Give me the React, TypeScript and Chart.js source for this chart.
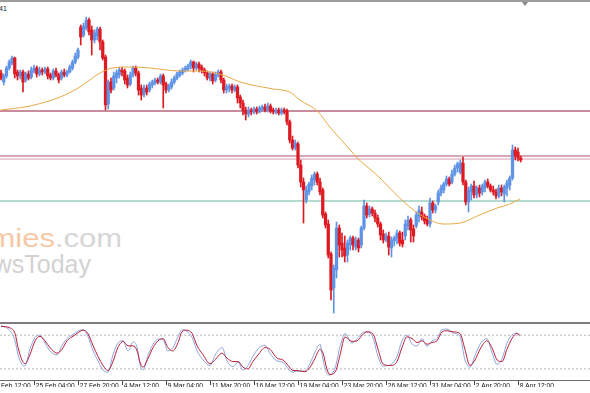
import React, { useEffect, useRef } from 'react';
import { Chart, registerables } from 'chart.js';

Chart.register(...registerables);

// ---------- price data (H4 candles) ----------
const opens = [
  1627, 1618, 1624, 1632, 1637, 1642, 1628, 1624, 1628, 1620,
  1626, 1623, 1629, 1632, 1626, 1630, 1628, 1631, 1625, 1622,
  1629, 1625, 1622, 1628, 1625, 1628, 1632, 1638, 1643, 1673,
  1665, 1672, 1680, 1670, 1660, 1664, 1671, 1658, 1643, 1596,
  1618, 1612, 1622, 1625, 1630, 1629, 1622, 1616, 1625, 1632,
  1627, 1612, 1606, 1612, 1610, 1615, 1617, 1620, 1618, 1624,
  1616, 1610, 1613, 1618, 1622, 1625, 1627, 1630, 1631, 1634,
  1638, 1632, 1636, 1633, 1630, 1627, 1622, 1626, 1620, 1625,
  1628, 1620, 1610, 1612, 1614, 1610, 1613, 1603, 1597, 1590,
  1586, 1590, 1588, 1591, 1588, 1591, 1593, 1590, 1594, 1590,
  1588, 1590, 1587, 1590, 1589, 1578, 1560, 1552, 1556, 1535,
  1518, 1500, 1508, 1514, 1520, 1526, 1518, 1510, 1486, 1476,
  1446, 1412, 1430, 1472, 1457, 1452, 1445, 1455, 1462, 1453,
  1460, 1455, 1472, 1494, 1486, 1491, 1487, 1482, 1476, 1466,
  1460, 1464, 1452, 1459, 1462, 1467, 1460, 1464, 1474, 1480,
  1471, 1474, 1484, 1488, 1484, 1481, 1476, 1497, 1490, 1498,
  1507, 1510, 1516, 1521, 1518, 1526, 1532, 1528, 1537, 1518,
  1498, 1508, 1514, 1505, 1512, 1508, 1512, 1518, 1514, 1510,
  1508, 1504, 1512, 1506, 1512, 1515, 1522, 1550, 1548, 1542,
];
const highs = [
  1630, 1626, 1634, 1640, 1644, 1643, 1630, 1630, 1630, 1628,
  1629, 1633, 1635, 1634, 1633, 1632, 1633, 1633, 1627, 1631,
  1632, 1627, 1630, 1631, 1630, 1635, 1640, 1647, 1652, 1675,
  1677, 1683, 1682, 1674, 1670, 1673, 1673, 1660, 1645, 1620,
  1622, 1628, 1630, 1633, 1633, 1631, 1625, 1628, 1634, 1634,
  1629, 1615, 1615, 1615, 1618, 1620, 1622, 1622, 1626, 1626,
  1618, 1616, 1621, 1624, 1628, 1630, 1632, 1634, 1636, 1640,
  1639, 1638, 1638, 1635, 1632, 1629, 1628, 1628, 1628, 1630,
  1630, 1622, 1616, 1616, 1616, 1615, 1615, 1605, 1600, 1593,
  1593, 1592, 1593, 1593, 1594, 1595, 1596, 1597, 1596, 1592,
  1592, 1592, 1592, 1592, 1591, 1580, 1564, 1560, 1558, 1540,
  1522, 1514, 1518, 1525, 1528, 1528, 1522, 1512, 1488, 1480,
  1448, 1435, 1478, 1475, 1467, 1464, 1460, 1464, 1464, 1463,
  1462, 1474, 1500, 1497, 1494, 1493, 1490, 1485, 1478, 1470,
  1467, 1468, 1463, 1464, 1470, 1469, 1468, 1480, 1484, 1482,
  1475, 1488, 1494, 1493, 1486, 1484, 1502, 1499, 1496, 1510,
  1515, 1518, 1524, 1523, 1530, 1535, 1538, 1540, 1543, 1520,
  1513, 1516, 1519, 1514, 1515, 1516, 1520, 1521, 1516, 1514,
  1511, 1515, 1515, 1515, 1520, 1524, 1555, 1553, 1552, 1544,
];
const lows = [
  1620, 1615, 1622, 1630, 1635, 1622, 1620, 1621, 1608, 1618,
  1620, 1621, 1627, 1623, 1624, 1625, 1626, 1621, 1620, 1620,
  1623, 1617, 1620, 1623, 1623, 1627, 1630, 1636, 1641, 1655,
  1663, 1670, 1665, 1645, 1657, 1660, 1650, 1640, 1590, 1591,
  1607, 1610, 1617, 1622, 1624, 1616, 1612, 1614, 1623, 1624,
  1605, 1600, 1603, 1605, 1608, 1612, 1615, 1616, 1616, 1592,
  1607, 1608, 1611, 1616, 1620, 1623, 1625, 1628, 1629, 1631,
  1628, 1630, 1628, 1627, 1624, 1620, 1619, 1616, 1618, 1623,
  1617, 1607, 1607, 1608, 1607, 1608, 1597, 1592, 1585, 1580,
  1583, 1585, 1586, 1586, 1587, 1589, 1588, 1588, 1587, 1586,
  1586, 1585, 1585, 1586, 1575, 1557, 1550, 1550, 1532, 1513,
  1477, 1497, 1505, 1510, 1515, 1515, 1505, 1482, 1472, 1442,
  1400, 1387, 1422, 1443, 1443, 1438, 1438, 1450, 1450, 1450,
  1448, 1452, 1470, 1482, 1483, 1484, 1478, 1473, 1460, 1457,
  1458, 1445, 1443, 1454, 1456, 1454, 1453, 1460, 1470, 1458,
  1458, 1472, 1478, 1480, 1476, 1474, 1473, 1487, 1487, 1495,
  1504, 1507, 1514, 1514, 1516, 1524, 1528, 1526, 1515, 1495,
  1488, 1500, 1502, 1502, 1503, 1505, 1508, 1512, 1508, 1505,
  1501, 1502, 1504, 1498, 1504, 1510, 1520, 1540, 1539, 1538,
];
const closes = [
  1622, 1624, 1632, 1638, 1642, 1626, 1624, 1628, 1618, 1626,
  1622, 1630, 1632, 1626, 1630, 1628, 1631, 1624, 1622, 1629,
  1625, 1620, 1628, 1625, 1628, 1633, 1638, 1644, 1650, 1663,
  1674, 1680, 1668, 1660, 1667, 1671, 1658, 1642, 1595, 1618,
  1610, 1624, 1627, 1630, 1628, 1620, 1615, 1625, 1632, 1627,
  1610, 1605, 1612, 1608, 1616, 1618, 1620, 1618, 1624, 1615,
  1610, 1614, 1618, 1622, 1626, 1628, 1630, 1632, 1634, 1638,
  1632, 1636, 1632, 1630, 1627, 1622, 1626, 1619, 1625, 1628,
  1620, 1610, 1613, 1614, 1610, 1613, 1602, 1597, 1590, 1586,
  1590, 1588, 1591, 1588, 1592, 1593, 1590, 1594, 1589, 1588,
  1590, 1587, 1590, 1588, 1578, 1560, 1552, 1557, 1535, 1518,
  1510, 1510, 1516, 1522, 1526, 1518, 1508, 1485, 1475, 1445,
  1410, 1432, 1472, 1455, 1450, 1444, 1457, 1462, 1455, 1460,
  1452, 1472, 1494, 1485, 1491, 1487, 1482, 1476, 1465, 1460,
  1464, 1453, 1460, 1462, 1467, 1457, 1456, 1476, 1480, 1470,
  1464, 1485, 1490, 1483, 1479, 1476, 1497, 1490, 1494, 1507,
  1512, 1516, 1521, 1516, 1526, 1532, 1536, 1537, 1518, 1498,
  1510, 1514, 1505, 1512, 1507, 1514, 1518, 1514, 1510, 1508,
  1504, 1512, 1508, 1513, 1517, 1522, 1550, 1544, 1542, 1540,
];

// ---------- moving average (sampled by bar index) ----------
const maBars = [0, 10.5, 21.5, 28.7, 36, 40.7, 48, 54.2, 65, 72.4, 80.7, 87, 99, 105, 108.7, 115, 119.6, 127, 129.5, 136.7, 145, 151, 156, 160.7, 167, 174, 180.4, 185, 188.7];
const maValues = [1590, 1594, 1603, 1613, 1627, 1632, 1633, 1632, 1629, 1629, 1625, 1618, 1611, 1608, 1600, 1589, 1573, 1550, 1542, 1525, 1502, 1488, 1480, 1476, 1477, 1485, 1492, 1496, 1501];

// ---------- horizontal levels ----------
const levelValues = [1589, 1544, 1541, 1499];
const levelColors = ['#c98c9c', '#c98a9b', '#e6bcc8', '#9dcfbf'];
const levelWidths = [1.8, 1.5, 1.3, 1.6];

// ---------- stochastic oscillator ----------
const stochBars = [
  0, 3.3, 5.1, 6.2, 7.6, 8.7, 10.5, 12.4, 14.2, 16,
  17.8, 20.4, 22.2, 24, 25.8, 27.6, 29.8, 31.6, 33.5, 35.3,
  37.1, 38.9, 40.7, 42.5, 44.4, 46.2, 48, 49.5, 50.5, 51.6,
  53.5, 55.3, 57.1, 58.9, 60.7, 62.5, 64.4, 65.8, 67.6, 69.5,
  71.3, 73.5, 76, 77.8, 80.4, 82.2, 84.4, 86.2, 88, 89.8,
  91.6, 93.5, 96, 97.8, 100.4, 102.5, 104.4, 106.2, 107.6, 110.5,
  112.4, 114.2, 116, 117.1, 118.5, 119.6, 121.5, 123.3, 125.1, 127.6,
  129.5, 131.3, 133.1, 135.3, 137.1, 138.9, 141.5, 144, 145.8, 147.6,
  149.5, 151.3, 153.1, 154.9, 156.7, 158.5, 160.4, 162.2, 164.4, 166.9,
  168.7, 170.5, 172.4, 174.2, 176.7, 178.5, 180.4, 182.2, 184, 185.8,
  187.6, 188.7,
];
const stochSignal = [
  96, 93, 83, 58, 36, 29, 45, 70, 78, 70,
  58, 48, 55, 70, 77, 83, 89, 83, 61, 42,
  26, 17, 33, 58, 69, 61, 61, 52, 33, 23,
  39, 58, 70, 74, 58, 52, 67, 86, 89, 83,
  61, 45, 29, 36, 48, 39, 33, 33, 23, 20,
  33, 45, 58, 55, 39, 36, 26, 17, 17, 15,
  23, 39, 55, 48, 20, 10, 14, 45, 77, 69,
  70, 80, 86, 82, 55, 29, 26, 33, 58, 77,
  74, 67, 70, 64, 67, 70, 86, 88, 86, 83,
  55, 26, 36, 55, 70, 58, 36, 33, 55, 74,
  83, 80,
];
const stochMain = [
  97, 88, 70, 45, 28, 25, 55, 76, 80, 66,
  52, 45, 62, 74, 80, 86, 90, 78, 52, 34,
  18, 14, 45, 66, 70, 52, 68, 58, 28, 18,
  45, 64, 73, 72, 52, 58, 78, 90, 87, 76,
  52, 36, 26, 44, 58, 34, 24, 32, 18, 26,
  42, 56, 62, 48, 34, 32, 20, 14, 16, 16,
  30, 50, 64, 36, 12, 9, 22, 60, 83, 66,
  74, 84, 86, 75, 42, 25, 27, 42, 70, 80,
  64, 61, 74, 60, 70, 74, 90, 91, 84, 78,
  36, 23, 44, 64, 74, 50, 28, 38, 66, 80,
  84, 78,
];
const stochLevels = [80, 20];

// ---------- time axis ----------
const tickBars = [-4, 12, 28, 44, 60, 76, 92, 108, 124, 140, 156, 172, 188];
const tickLabels = [
  '21 Feb 12:00', '25 Feb 04:00', '27 Feb 20:00', '4 Mar 12:00', '9 Mar 04:00',
  '11 Mar 20:00', '16 Mar 12:00', '19 Mar 04:00', '23 Mar 20:00', '26 Mar 12:00',
  '31 Mar 04:00', '2 Apr 20:00', '8 Apr 12:00',
];

// ---------- layout / style constants ----------
const W = 590;
const BAR_PX = 2.75;
const FIRST_BAR_PX = 1;
const OSC_LEFT = -60;
const XMIN_MAIN = (0 - FIRST_BAR_PX) / BAR_PX;
const XMAX_MAIN = (W - FIRST_BAR_PX) / BAR_PX;
const XMIN_OSC = (OSC_LEFT - FIRST_BAR_PX) / BAR_PX;
const XMAX_OSC = XMAX_MAIN;
const PRICE_TOP = 1697;
const PRICE_BOTTOM = 1380;
const BULL = '#5f93e6';
const BEAR = '#dd1a22';
const MA_COLOR = '#e9a845';
const FONT = '"Liberation Sans", Arial, sans-serif';

export default function App() {
  const mainRef = useRef<HTMLCanvasElement>(null);
  const oscRef = useRef<HTMLCanvasElement>(null);

  useEffect(() => {
    document.body.style.margin = '0';
    const idx = opens.map((_, i) => i);
    const colors = idx.map((i) => (closes[i] >= opens[i] ? BULL : BEAR));

    const main = new Chart(mainRef.current as HTMLCanvasElement, {
      type: 'bar',
      data: {
        datasets: [
          ...levelValues.map((v, k) => ({
            type: 'line' as const,
            data: [{ x: XMIN_MAIN, y: v }, { x: XMAX_MAIN, y: v }],
            borderColor: levelColors[k],
            borderWidth: levelWidths[k],
            pointRadius: 0,
            order: 10,
          })),
          {
            type: 'bar' as const,
            data: idx.map((i) => ({ x: i, y: [lows[i], highs[i]] })),
            backgroundColor: colors,
            barThickness: 1,
            grouped: false,
            borderWidth: 0,
            order: 5,
          },
          {
            type: 'bar' as const,
            data: idx.map((i) => ({ x: i, y: [opens[i], closes[i]] })),
            backgroundColor: colors,
            barThickness: 2.6,
            grouped: false,
            borderWidth: 0,
            order: 4,
          },
          {
            type: 'line' as const,
            data: maBars.map((b, k) => ({ x: b, y: maValues[k] })),
            borderColor: MA_COLOR,
            borderWidth: 1,
            pointRadius: 0,
            cubicInterpolationMode: 'monotone',
            order: 1,
          },
        ],
      } as any,
      options: {
        animation: false,
        responsive: false,
        events: [],
        layout: { padding: 0 },
        plugins: { legend: { display: false }, tooltip: { enabled: false } },
        scales: {
          x: { type: 'linear', display: false, min: XMIN_MAIN, max: XMAX_MAIN, offset: false },
          y: { type: 'linear', display: false, min: PRICE_BOTTOM, max: PRICE_TOP },
        },
      } as any,
    });

    const osc = new Chart(oscRef.current as HTMLCanvasElement, {
      type: 'line',
      data: {
        datasets: [
          ...stochLevels.map((v) => ({
            data: [{ x: XMIN_OSC, y: v }, { x: XMAX_OSC, y: v }],
            borderColor: '#b9b9b9',
            borderWidth: 1,
            borderDash: [2, 2],
            pointRadius: 0,
            order: 10,
          })),
          {
            data: stochBars.map((b, k) => ({ x: b, y: stochMain[k] })),
            borderColor: '#8ea5dd',
            borderWidth: 1,
            pointRadius: 0,
            cubicInterpolationMode: 'monotone',
            order: 2,
          },
          {
            data: stochBars.map((b, k) => ({ x: b, y: stochSignal[k] })),
            borderColor: '#b81c35',
            borderWidth: 1,
            pointRadius: 0,
            cubicInterpolationMode: 'monotone',
            order: 1,
          },
        ],
      } as any,
      options: {
        animation: false,
        responsive: false,
        events: [],
        layout: { padding: { top: 3, bottom: 6, left: 0, right: 0 } },
        plugins: { legend: { display: false }, tooltip: { enabled: false } },
        scales: {
          x: {
            type: 'linear',
            min: XMIN_OSC,
            max: XMAX_OSC,
            offset: false,
            afterBuildTicks: (axis: any) => {
              axis.ticks = tickBars.map((value) => ({ value }));
            },
            ticks: {
              autoSkip: false,
              maxRotation: 0,
              minRotation: 0,
              align: 'start',
              padding: -3,
              color: '#111',
              font: { size: 6.6, family: FONT },
              callback: (_v: any, i: number) => ' ' + tickLabels[i],
            },
            grid: { display: true, drawOnChartArea: false, drawTicks: true, tickLength: 5, color: '#444', lineWidth: 1 },
            border: { display: true, color: '#6a6a6a', width: 1 },
          },
          y: { type: 'linear', display: false, min: 0, max: 100 },
        },
      } as any,
    });

    return () => {
      main.destroy();
      osc.destroy();
    };
  }, []);

  return (
    <div
      style={{
        position: 'fixed',
        left: 0,
        top: 0,
        width: W,
        height: 393,
        overflow: 'hidden',
        background: '#ffffff',
        fontFamily: FONT,
      }}
    >
      {/* watermark */}
      <div
        style={{
          position: 'absolute',
          right: W - 122,
          top: 226,
          fontSize: 25,
          lineHeight: '25px',
          whiteSpace: 'nowrap',
          fontFamily: FONT,
          transform: 'scaleX(1.24)',
          transformOrigin: 'right center',
        }}
      >
        <span style={{ color: '#f6c8a8' }}>economies</span>
        <span style={{ color: '#d6d6d6' }}>.com</span>
      </div>
      <div
        style={{
          position: 'absolute',
          right: W - 91,
          top: 252,
          fontSize: 25,
          lineHeight: '25px',
          whiteSpace: 'nowrap',
          color: '#d2d2d2',
          fontFamily: FONT,
        }}
      >
        NewsToday
      </div>

      {/* top frame */}
      <div style={{ position: 'absolute', left: 0, top: 0, width: W, height: 2, background: '#9c9c9c' }} />
      <div
        style={{
          position: 'absolute',
          left: 522,
          top: 2,
          width: 0,
          height: 0,
          borderLeft: '3px solid transparent',
          borderRight: '3px solid transparent',
          borderTop: '4px solid #8a8a8a',
        }}
      />
      <div style={{ position: 'absolute', left: -1, top: 5, fontSize: 7, lineHeight: '8px', color: '#222', fontFamily: FONT }}>
        41
      </div>

      <canvas ref={mainRef} width={W} height={317} style={{ position: 'absolute', left: 0, top: 3 }} />

      <canvas ref={oscRef} width={W - OSC_LEFT} height={72} style={{ position: 'absolute', left: OSC_LEFT, top: 321 }} />

      {/* panel separator */}
      <div style={{ position: 'absolute', left: 0, top: 322, width: W, height: 2, background: '#7c7c7c' }} />
    </div>
  );
}
